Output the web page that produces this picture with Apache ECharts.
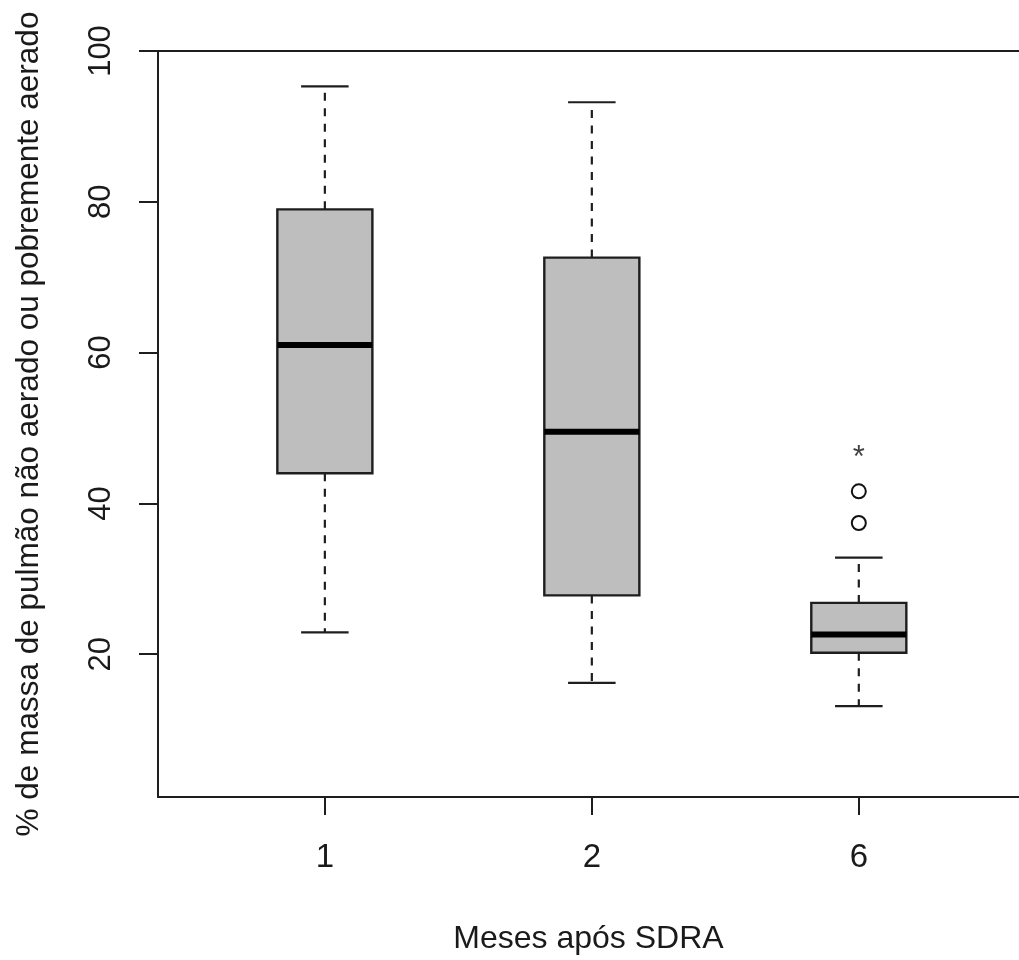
<!DOCTYPE html>
<html>
<head>
<meta charset="utf-8">
<script src="https://cdn.jsdelivr.net/npm/echarts@6/dist/echarts.min.js"></script>
<style>
html,body{margin:0;padding:0;background:#fff;}
#chart{width:1019px;height:960px;}
</style>
</head>
<body>
<div id="chart"></div>
<script>
// ---- data ----
const categories   = ['1', '2', '6'];          // months after ARDS
const whiskerLow   = [22.9, 16.2, 13.1];
const q1           = [44.0, 27.8, 20.2];
const median       = [61.0, 49.5, 22.6];
const q3           = [79.0, 72.6, 26.8];
const whiskerHigh  = [95.3, 93.2, 32.8];
const outlierGroup = ['6', '6'];
const outlierValue = [41.6, 37.4];
const starGroup    = ['6'];
const starValue    = [46.0];
const yTicks       = [20, 40, 60, 80, 100];

// ---- build ----
const pos = c => categories.indexOf(c) + 1;
const boxData = categories.map((c, i) => [pos(c), whiskerLow[i], q1[i], median[i], q3[i], whiskerHigh[i]]);
const outData = outlierGroup.map((c, i) => [pos(c), outlierValue[i]]);
const starData = starGroup.map((c, i) => [pos(c), starValue[i]]);
const xTickVals = categories.map(pos);

const LINE = '#1e1e1e';
const FONT = 'Liberation Sans, Arial, sans-serif';
const BOX_HALF = 0.178, CAP_HALF = 0.089;

function renderBox(params, api) {
  const x = api.value(0);
  const pLow = api.coord([x, api.value(1)]);
  const pQ1 = api.coord([x, api.value(2)]);
  const pMed = api.coord([x, api.value(3)]);
  const pQ3 = api.coord([x, api.value(4)]);
  const pHigh = api.coord([x, api.value(5)]);
  const hw = api.size([BOX_HALF, 0])[0];
  const cw = api.size([CAP_HALF, 0])[0];
  const cx = pMed[0];
  const solid = {stroke: LINE, lineWidth: 2.2, fill: null};
  const dashed = {stroke: LINE, lineWidth: 2.2, lineDash: [8, 7.5], fill: null};
  return {
    type: 'group',
    children: [
      {type: 'line', shape: {x1: cx, y1: pQ3[1], x2: cx, y2: pHigh[1]}, style: dashed},
      {type: 'line', shape: {x1: cx, y1: pQ1[1], x2: cx, y2: pLow[1]}, style: dashed},
      {type: 'line', shape: {x1: cx - cw, y1: pHigh[1], x2: cx + cw, y2: pHigh[1]}, style: solid},
      {type: 'line', shape: {x1: cx - cw, y1: pLow[1], x2: cx + cw, y2: pLow[1]}, style: solid},
      {type: 'rect', shape: {x: cx - hw, y: pQ3[1], width: 2 * hw, height: pQ1[1] - pQ3[1]},
        style: {fill: '#bebebe', stroke: LINE, lineWidth: 2.4}},
      {type: 'line', shape: {x1: cx - hw, y1: pMed[1], x2: cx + hw, y2: pMed[1]},
        style: {stroke: '#000', lineWidth: 6}}
    ]
  };
}

const chart = echarts.init(document.getElementById('chart'), null, {renderer: 'canvas'});
chart.setOption({
  backgroundColor: '#ffffff',
  animation: false,
  grid: {left: 158, right: 0, top: 51, bottom: 157, containLabel: false},
  xAxis: [{
    type: 'value', min: 0.375, max: 3.6, position: 'bottom',
    axisLine: {show: true, onZero: false, lineStyle: {color: LINE, width: 2}},
    axisTick: {show: true, customValues: xTickVals, length: 18, lineStyle: {color: LINE, width: 2}},
    axisLabel: {show: true, customValues: xTickVals, formatter: v => categories[Math.round(v) - 1],
      fontSize: 33, fontFamily: FONT, color: '#1a1a1a', margin: 44},
    splitLine: {show: false},
    name: 'Meses após SDRA', nameLocation: 'middle', nameGap: 126,
    nameTextStyle: {fontSize: 32, fontFamily: FONT, color: '#1a1a1a'}
  }, {
    type: 'value', min: 0.375, max: 3.6, position: 'top',
    axisLine: {show: true, onZero: false, lineStyle: {color: LINE, width: 2}},
    axisTick: {show: false}, axisLabel: {show: false}, splitLine: {show: false}
  }],
  yAxis: {
    type: 'value', min: 1.06, max: 100,
    axisLine: {show: true, onZero: false, lineStyle: {color: LINE, width: 2}},
    axisTick: {show: true, customValues: yTicks, length: 19, lineStyle: {color: LINE, width: 2}},
    axisLabel: {show: true, customValues: yTicks, rotate: 90, fontSize: 31, fontFamily: FONT,
      color: '#1a1a1a', margin: 41},
    splitLine: {show: false},
    name: '% de massa de pulmão não aerado ou pobremente aerado',
    nameLocation: 'middle', nameRotate: 90, nameGap: 113,
    nameTextStyle: {fontSize: 31.5, fontFamily: FONT, color: '#1a1a1a'}
  },
  series: [{
    type: 'custom', renderItem: renderBox, data: boxData,
    encode: {x: 0, y: [1, 2, 3, 4, 5]}, clip: false
  }, {
    type: 'scatter', data: outData, symbol: 'emptyCircle', symbolSize: 14,
    itemStyle: {color: '#111', borderColor: '#111', borderWidth: 2.4, opacity: 1}, z: 5
  }, {
    type: 'scatter', data: starData, symbolSize: 0,
    label: {show: true, position: 'inside', formatter: '*', fontSize: 31, fontFamily: FONT, color: '#111'}
  }]
});
</script>
</body>
</html>
